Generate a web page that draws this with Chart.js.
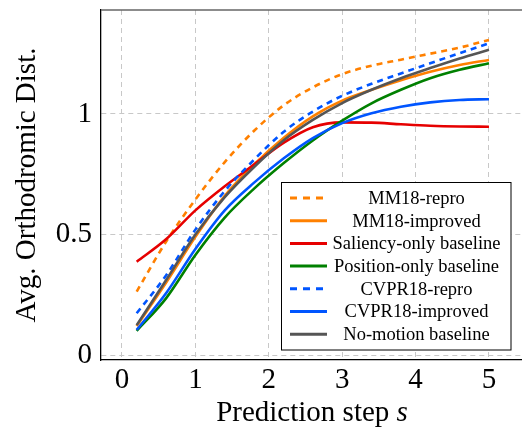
<!DOCTYPE html>
<html>
<head>
<meta charset="utf-8">
<script src="https://cdn.jsdelivr.net/npm/chart.js@4.4.1/dist/chart.umd.min.js"></script>
<style>
  html, body { margin: 0; padding: 0; background: #fff; }
  #wrap { width: 522px; height: 431px; position: relative; }
</style>
</head>
<body>
<div id="wrap"><canvas id="plot"></canvas></div>
<script>
// prediction steps (x) and the read-off curves
const steps = [0.2, 0.6, 1.0, 1.4, 1.8, 2.2, 2.6, 3.0, 3.4, 3.8, 4.2, 4.6, 5.0];
const mm18Repro      = [0.263, 0.47, 0.645, 0.80, 0.93, 1.035, 1.11, 1.165, 1.20, 1.225, 1.25, 1.275, 1.307];
const mm18Improved   = [0.12, 0.30, 0.49, 0.66, 0.79, 0.90, 0.99, 1.055, 1.10, 1.14, 1.175, 1.203, 1.224];
const saliencyOnly   = [0.387, 0.48, 0.60, 0.70, 0.79, 0.88, 0.945, 0.965, 0.964, 0.957, 0.951, 0.948, 0.947];
const positionOnly   = [0.10, 0.235, 0.415, 0.57, 0.69, 0.795, 0.89, 0.972, 1.044, 1.10, 1.148, 1.183, 1.21];
const cvpr18Repro    = [0.173, 0.33, 0.52, 0.68, 0.81, 0.925, 1.01, 1.075, 1.125, 1.168, 1.21, 1.252, 1.293];
const cvpr18Improved = [0.104, 0.256, 0.44, 0.60, 0.715, 0.815, 0.90, 0.962, 1.003, 1.03, 1.048, 1.058, 1.061];
const noMotion       = [0.124, 0.31, 0.50, 0.655, 0.78, 0.89, 0.975, 1.045, 1.10, 1.148, 1.19, 1.23, 1.266];

const xTicks = [0, 1, 2, 3, 4, 5];
const yTicks = [0, 0.5, 1];

const series = [
  { label: 'MM18-repro',              data: mm18Repro,      color: '#ff8000', dash: [6, 5] },
  { label: 'MM18-improved',           data: mm18Improved,   color: '#ff8000', dash: [] },
  { label: 'Saliency-only baseline',  data: saliencyOnly,   color: '#e60000', dash: [] },
  { label: 'Position-only baseline',  data: positionOnly,   color: '#008000', dash: [] },
  { label: 'CVPR18-repro',            data: cvpr18Repro,    color: '#0055ff', dash: [6, 5] },
  { label: 'CVPR18-improved',         data: cvpr18Improved, color: '#0055ff', dash: [] },
  { label: 'No-motion baseline',      data: noMotion,       color: '#555555', dash: [] }
];

const SERIF = '"Liberation Serif", "DejaVu Serif", serif';

const datasets = series.map((s, i) => ({
  label: s.label,
  data: steps.map((x, j) => ({ x: x, y: s.data[j] })),
  borderColor: s.color,
  borderDash: s.dash,
  borderWidth: 2.6,
  pointRadius: 0,
  fill: false,
  cubicInterpolationMode: 'monotone',
  order: series.length - i   // later series drawn on top, like pgfplots
}));

// top frame line, boxed legend, x title with italic s
const extras = {
  id: 'extras',
  afterDraw(chart) {
    const ctx = chart.ctx;
    const a = chart.chartArea;
    ctx.save();
    ctx.strokeStyle = '#666';
    ctx.lineWidth = 1.3;
    ctx.beginPath();
    ctx.moveTo(a.left, a.top);
    ctx.lineTo(a.right, a.top);
    ctx.stroke();

    // legend box
    const bx = 281.5, by = 182.5, bw = 229.5, bh = 167.5;
    ctx.fillStyle = '#fff';
    ctx.fillRect(bx, by, bw, bh);
    ctx.strokeStyle = '#000';
    ctx.lineWidth = 1;
    ctx.strokeRect(bx, by, bw, bh);
    ctx.font = '18.5px ' + SERIF;
    ctx.textAlign = 'center';
    ctx.textBaseline = 'middle';
    series.forEach((s, i) => {
      const y = 198 + i * 22.7;
      ctx.strokeStyle = s.color;
      ctx.lineWidth = 3;
      ctx.setLineDash(s.dash.length ? [7, 6] : []);
      ctx.beginPath();
      ctx.moveTo(290, y);
      ctx.lineTo(327, y);
      ctx.stroke();
      ctx.setLineDash([]);
      ctx.fillStyle = '#000';
      ctx.fillText(s.label, 416.5, y + 1);
    });

    // x axis title
    ctx.textAlign = 'left';
    ctx.textBaseline = 'alphabetic';
    const plain = 'Prediction step ';
    ctx.font = '29px ' + SERIF;
    const w1 = ctx.measureText(plain).width;
    ctx.font = 'italic 29px ' + SERIF;
    const w2 = ctx.measureText('s').width;
    const x0 = 312 - (w1 + w2) / 2;
    ctx.font = '29px ' + SERIF;
    ctx.fillText(plain, x0, 421);
    ctx.font = 'italic 29px ' + SERIF;
    ctx.fillText('s', x0 + w1, 421);
    ctx.restore();
  }
};

const gridStyle = {
  color: '#c8c8c8',
  lineWidth: 1,
  drawTicks: false
};

new Chart(document.getElementById('plot'), {
  type: 'line',
  data: { datasets: datasets },
  options: {
    animation: false,
    responsive: true,
    maintainAspectRatio: false,
    layout: { padding: { top: 10, right: 0, left: 0, bottom: 0 } },
    plugins: {
      legend: { display: false },
      tooltip: { enabled: false }
    },
    scales: {
      x: {
        type: 'linear',
        min: -0.286,
        max: 5.45,
        afterBuildTicks: (s) => { s.ticks = xTicks.map(v => ({ value: v })); },
        afterFit: (s) => { s.height = 71; s.paddingLeft = 0; s.paddingRight = 0; },
        grid: gridStyle,
        border: { display: true, color: '#000', width: 1.3, dash: [5, 4] },
        ticks: {
          color: '#000',
          padding: 3,
          maxRotation: 0,
          font: { family: SERIF, size: 29 },
          callback: (v) => String(v)
        }
      },
      y: {
        type: 'linear',
        min: -0.0207,
        max: 1.431,
        afterBuildTicks: (s) => { s.ticks = yTicks.map(v => ({ value: v })); },
        afterFit: (s) => { s.width = 101; s.paddingTop = 0; s.paddingBottom = 0; },
        grid: gridStyle,
        border: { display: true, color: '#000', width: 1.3, dash: [5, 4] },
        title: {
          display: true,
          text: 'Avg. Orthodromic Dist.',
          color: '#000',
          font: { family: SERIF, size: 29 },
          padding: { top: 10, bottom: 0 }
        },
        ticks: {
          color: '#000',
          padding: 9,
          font: { family: SERIF, size: 29 },
          callback: (v) => String(v)
        }
      }
    }
  },
  plugins: [extras]
});
</script>
</body>
</html>
